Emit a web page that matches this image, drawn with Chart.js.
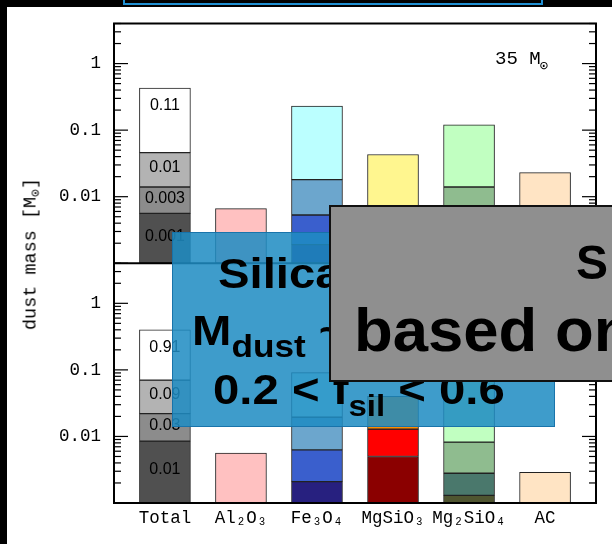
<!DOCTYPE html>
<html>
<head>
<meta charset="utf-8">
<script src="https://cdn.jsdelivr.net/npm/chart.js@4.4.1/dist/chart.umd.min.js"></script>
<style>
html, body { margin: 0; padding: 0; background: #fff; overflow: hidden; }
#wrap { position: relative; width: 612px; height: 544px; overflow: hidden; }
#chart { position: absolute; left: 0; top: 0; z-index: 1; }
.strip { position: absolute; background: #000; z-index: 8; }
#topBox { position: absolute; left: 123px; top: -12px; width: 420px; height: 17px; box-sizing: border-box;
          border: 2px solid #1f8fd2; background: #000; z-index: 9; }
#ytitle { position: absolute; left: 32px; top: 254px; transform: translate(-50%, -50%) rotate(-90deg);
          font-family: "Liberation Mono", "DejaVu Sans Mono", monospace; font-size: 18.5px; white-space: nowrap; z-index: 2; }
#ytitle sub { font-size: 13px; vertical-align: -4px; }
#blueBox { position: absolute; left: 172px; top: 232px; width: 383px; height: 195px; box-sizing: border-box;
           background: rgba(30, 140, 195, 0.86); border: 1px solid rgba(22, 112, 168, 0.9); z-index: 3; }
#greyBox { position: absolute; left: 329px; top: 205px; width: 300px; height: 177px; box-sizing: border-box;
           background: #8f8f8f; border: 2px solid #111; z-index: 5; }
.big { position: absolute; font-family: "Liberation Sans", Arial, sans-serif; font-weight: bold; color: #000;
       line-height: 1; white-space: nowrap; transform-origin: left center; }
.blueTxt { z-index: 4; font-size: 43px; transform: scaleX(1.1); }
.greyTxt { z-index: 6; }
.sb { position: relative; }
</style>
</head>
<body>
<div id="wrap">
  <canvas id="chart" width="612" height="544"></canvas>
  <div class="strip" style="left:0;top:0;width:7px;height:544px"></div>
  <div class="strip" style="left:0;top:0;width:612px;height:7px"></div>
  <div id="topBox"></div>
  <div id="ytitle">dust mass [M<sub>⊙</sub>]</div>

  <div id="blueBox"></div>
  <div class="big blueTxt" style="left:218px;top:251.6px">Silicates</div>
  <div class="big blueTxt" style="left:192px;top:308.6px">M<span class="sb" style="font-size:32px;top:12px">dust</span> ~ 0.1</div>
  <div class="big blueTxt" style="left:213px;top:367.9px">0.2 &lt; f<span class="sb" style="font-size:30px;top:12px">sil</span> &lt; 0.6</div>

  <div id="greyBox"></div>
  <div class="big greyTxt" style="left:576px;top:239.4px;font-size:48px">S</div>
  <div class="big greyTxt" style="left:354px;top:300px;font-size:61px;transform:scaleX(1.04)">based on</div>
</div>
<script>
//Categories
const categories = ['Total', 'Al₂O₃', 'Fe₃O₄', 'MgSiO₃', 'Mg₂SiO₄', 'AC'];
const yMin = 0.001;
const yMax = 4;
const yTicks = [0.01, 0.1, 1];

//Upper panel: edges of the bar segments, top of the bar first (M_sun)
const upTotal   = [0.43, 0.046, 0.014, 0.0056];
const upAl2O3   = [0.0066];
const upFe3O4   = [0.23, 0.018, 0.0053, 0.0019];
const upMgSiO3  = [0.043, 0.004, 0.0018];          // below 0.01 hidden, guessed
const upMg2SiO4 = [0.12, 0.014, 0.004, 0.0015];    // below 0.01 hidden, guessed
const upAC      = [0.023];

//Lower panel
const loTotal   = [0.40, 0.070, 0.022, 0.0085];
const loAl2O3   = [0.0056];
const loFe3O4   = [0.091, 0.0195, 0.0063, 0.0021];
const loMgSiO3  = [0.040, 0.0129, 0.0050];
const loMg2SiO4 = [0.11, 0.0082, 0.0028, 0.0013];
const loAC      = [0.0029];

//Labels written inside the Total bars
const totalUpLabels = ['0.11', '0.01', '0.003', '0.001'];
const totalLoLabels = ['0.91', '0.09', '0.03', '0.01'];

//Colours, top segment first
const colTotal     = ['#ffffff', '#b3b3b3', '#8c8c8c', '#505050'];
const colAl2O3     = ['#ffc1c1'];
const colFe3O4     = ['#bbffff', '#6ca6cd', '#3a5fcd', '#27207f'];
const colMgSiO3Up  = ['#fff68f', '#ff0000', '#8b0000'];
const colMgSiO3Lo  = ['#ff8c00', '#ff0000', '#8b0000'];
const colMg2SiO4   = ['#c1ffc1', '#8fbc8f', '#4a786c', '#4f5530'];
const colAC        = ['#ffe4c4'];

const monoFont = '"Liberation Mono", "DejaVu Sans Mono", monospace';

function addBar(list, axis, idx, edges, colours) {
    edges.forEach((hi, k) => {
        let lo = k + 1 < edges.length ? edges[k + 1] : yMin;
        list.push({
            yAxisID: axis,
            data: [{x: idx, y: [lo, hi]}],
            backgroundColor: colours[k]
        });
    });
}

let datasets = [];
addBar(datasets, 'yTop', 0, upTotal, colTotal);
addBar(datasets, 'yTop', 1, upAl2O3, colAl2O3);
addBar(datasets, 'yTop', 2, upFe3O4, colFe3O4);
addBar(datasets, 'yTop', 3, upMgSiO3, colMgSiO3Up);
addBar(datasets, 'yTop', 4, upMg2SiO4, colMg2SiO4);
addBar(datasets, 'yTop', 5, upAC, colAC);
addBar(datasets, 'yBot', 0, loTotal, colTotal);
addBar(datasets, 'yBot', 1, loAl2O3, colAl2O3);
addBar(datasets, 'yBot', 2, loFe3O4, colFe3O4);
addBar(datasets, 'yBot', 3, loMgSiO3, colMgSiO3Lo);
addBar(datasets, 'yBot', 4, loMg2SiO4, colMg2SiO4);
addBar(datasets, 'yBot', 5, loAC, colAC);

function logAxis() {
    return {
        type: 'logarithmic',
        position: 'left',
        stack: 'panels',
        stackWeight: 1,
        min: yMin,
        max: yMax,
        grid: {display: false, drawTicks: false},
        border: {display: false},
        afterBuildTicks: s => { s.ticks = yTicks.map(v => ({value: v})); },
        afterFit: s => { s.width = 114; },
        ticks: {
            color: '#000',
            padding: 13,
            font: {family: monoFont, size: 17.5},
            callback: v => String(v)
        }
    };
}

//frame, inward ticks and text written inside the plot
const framePlugin = {
    id: 'frame',
    afterDatasetsDraw(chart) {
        let ctx = chart.ctx;
        let xs = chart.scales.x;
        let L = xs.left, R = xs.right;
        let T = chart.scales.yTop.top, B = chart.scales.yBot.bottom;
        let mid = chart.scales.yTop.bottom;
        let line = (x1, y1, x2, y2) => { ctx.beginPath(); ctx.moveTo(x1, y1); ctx.lineTo(x2, y2); ctx.stroke(); };
        ctx.save();
        ctx.strokeStyle = '#000';
        ctx.lineWidth = 1.2;
        ['yTop', 'yBot'].forEach(id => {
            let s = chart.scales[id];
            for (let e = -3; e <= 0; e++) {
                for (let m = 1; m <= 9; m++) {
                    let v = m * Math.pow(10, e);
                    if (v < s.min * 0.999 || v > s.max) continue;
                    let y = s.getPixelForValue(v);
                    let len = m === 1 ? 14 : 7;
                    line(L, y, L + len, y);
                    line(R - len, y, R, y);
                }
            }
        });
        ctx.lineWidth = 2;
        ctx.strokeRect(L, T, R - L, B - T);
        line(L, mid, R, mid);

        //labels in the Total bars
        ctx.fillStyle = '#000';
        ctx.font = '16px "Liberation Sans", Arial, sans-serif';
        ctx.textAlign = 'center';
        ctx.textBaseline = 'middle';
        let xc = xs.getPixelForValue(0);
        [['yTop', upTotal, totalUpLabels], ['yBot', loTotal, totalLoLabels]].forEach(p => {
            let s = chart.scales[p[0]];
            p[1].forEach((hi, k) => {
                let lo = k + 1 < p[1].length ? p[1][k + 1] : yMin;
                let yh = s.getPixelForValue(hi);
                let yl = s.getPixelForValue(lo);
                let y = k === 0 ? yh + 18 : (yh + yl) / 2 - 2;
                ctx.fillText(p[2][k], xc, y);
            });
        });

        //mass of the progenitor
        ctx.textAlign = 'left';
        ctx.textBaseline = 'alphabetic';
        ctx.font = '19px ' + monoFont;
        let tx = R - 101;
        let ty = T + 40;
        ctx.fillText('35 M', tx, ty);
        let w = ctx.measureText('35 M').width;
        ctx.font = '14px ' + monoFont;
        ctx.fillText('⊙', tx + w - 1, ty + 6);
        ctx.restore();
    }
};

let chart = new Chart(document.getElementById('chart').getContext('2d'), {
    type: 'bar',
    data: {datasets: datasets},
    options: {
        responsive: false,
        animation: false,
        events: [],
        layout: {padding: {top: 22, right: 16, left: 0, bottom: 0}},
        datasets: {
            bar: {
                grouped: false,
                barThickness: 51,
                borderWidth: 1,
                borderColor: '#222',
                borderSkipped: false
            }
        },
        plugins: {legend: {display: false}, tooltip: {enabled: false}},
        scales: {
            x: {
                type: 'linear',
                offset: false,
                min: -0.67,
                max: 5.67,
                grid: {display: false, drawTicks: false},
                border: {display: false},
                afterBuildTicks: s => { s.ticks = categories.map((c, i) => ({value: i})); },
                afterFit: s => { s.height = 41; },
                ticks: {
                    color: '#000',
                    padding: 5,
                    autoSkip: false,
                    maxRotation: 0,
                    font: {family: monoFont, size: 17.5},
                    callback: v => categories[v]
                }
            },
            yBot: logAxis(),
            yTop: logAxis()
        }
    },
    plugins: [framePlugin]
});
</script>
</body>
</html>
